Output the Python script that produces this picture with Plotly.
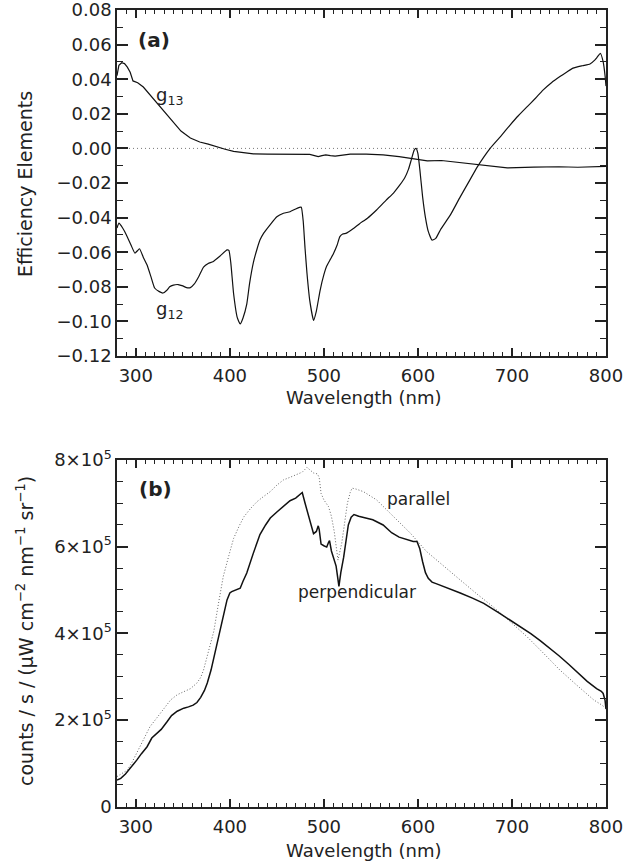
import plotly.graph_objects as go

# ---------------- data: panel (a) ----------------
g13_wl = [280, 282, 285, 288, 291, 294, 297, 302, 308, 315, 320, 326, 333, 340, 348, 358, 368, 377,
          386, 395, 404, 415, 425, 440, 458, 475, 485, 490, 494, 498, 502, 507, 512, 518, 528, 545,
          563, 580, 595, 610, 625, 645, 666, 695, 723, 750, 770, 794, 800]
g13_val = [0.042, 0.048, 0.0495, 0.049, 0.047, 0.044, 0.039, 0.038, 0.0355, 0.031, 0.028, 0.024,
           0.019, 0.0147, 0.010, 0.006, 0.0037, 0.0025, 0.0008, -0.0005, -0.0017, -0.0027, -0.0032,
           -0.0033, -0.0033, -0.0032, -0.0035, -0.0042, -0.0048, -0.0042, -0.0038, -0.0042, -0.0045,
           -0.004, -0.0033, -0.0033, -0.0038, -0.0048, -0.0061, -0.0072, -0.0070, -0.0082, -0.0096,
           -0.0113, -0.0108, -0.0106, -0.0109, -0.0108, -0.0104]

g12_wl = [280, 282, 286, 290, 295, 299, 302, 304, 308, 312, 316, 320, 325, 329, 333, 336, 340, 345,
          350, 354, 358, 362, 367, 372, 377, 382, 390, 397, 399, 401, 404, 408, 411, 414, 418, 421,
          425, 429, 432, 436, 443, 450, 457, 464, 470, 474, 476, 478, 480, 482, 485, 489, 492, 496,
          500, 503, 507, 510, 514, 517, 520, 524, 531, 538, 546, 556, 566, 574, 581, 586, 590, 593,
          596, 598, 600, 602, 605, 608, 611, 615, 619, 624, 635, 645, 655, 663, 670, 677, 688, 698,
          707, 716, 725, 733, 742, 751, 758, 765, 775, 783, 788, 791, 794, 797, 799, 800]
g12_val = [-0.046, -0.0432, -0.046, -0.050, -0.056, -0.0605, -0.059, -0.058, -0.063, -0.0674, -0.074,
           -0.0807, -0.0828, -0.0836, -0.082, -0.080, -0.079, -0.0787, -0.0795, -0.0805, -0.0805,
           -0.0785, -0.074, -0.0686, -0.0665, -0.0655, -0.062, -0.0587, -0.059, -0.066, -0.084, -0.098,
           -0.1015, -0.098, -0.090, -0.078, -0.066, -0.058, -0.053, -0.049, -0.044, -0.0395, -0.0375,
           -0.0366, -0.035, -0.0341, -0.034, -0.042, -0.058, -0.072, -0.088, -0.0994, -0.094, -0.082,
           -0.073, -0.068, -0.064, -0.061, -0.056, -0.051, -0.0495, -0.049, -0.0465, -0.0435, -0.0405,
           -0.0356, -0.030, -0.0258, -0.021, -0.017, -0.012, -0.0065, -0.001, 0.000, -0.003, -0.012,
           -0.028, -0.040, -0.048, -0.053, -0.052, -0.047, -0.038, -0.028, -0.0185, -0.0108, -0.005,
           0.0002, 0.007, 0.0135, 0.019, 0.024, 0.029, 0.0337, 0.038, 0.0415, 0.044, 0.0464, 0.0478,
           0.0488, 0.051, 0.053, 0.055, 0.050, 0.042, 0.036]

zero_wl = [280, 800]
zero_val = [0.0, 0.0]

# ---------------- data: panel (b) ----------------
perp_wl = [280, 284, 289, 295, 301, 306, 312, 317, 322, 327, 333, 338, 344, 351, 356, 361, 365, 369,
           373, 376, 380, 386, 391, 397, 400, 402, 406, 411, 414, 418, 425, 432, 438, 443, 450, 457,
           464, 470, 475, 477, 480, 484, 487, 489, 492, 494, 495, 497, 500, 503, 505, 506, 508, 509,
           511, 513, 516, 518, 521, 524, 526, 529, 532, 537, 542, 552, 563, 572, 580, 588, 595, 599,
           602, 605, 608, 611, 615, 620, 630, 645, 658, 670, 687, 700, 710, 720, 730, 740, 750, 760,
           770, 780, 790, 795, 797, 799, 800]
perp_val = [0.61, 0.65, 0.75, 0.90, 1.07, 1.22, 1.38, 1.58, 1.68, 1.78, 1.95, 2.10, 2.20, 2.27, 2.30,
            2.34, 2.40, 2.52, 2.68, 2.85, 3.15, 3.69, 4.20, 4.77, 4.93, 4.96, 5.00, 5.04, 5.20, 5.39,
            5.85, 6.28, 6.50, 6.66, 6.80, 6.92, 7.06, 7.12, 7.20, 7.25, 7.00, 6.69, 6.45, 6.30, 6.35,
            6.48, 6.40, 6.06, 6.02, 5.99, 6.10, 6.14, 5.90, 5.82, 5.70, 5.55, 5.08, 5.40, 5.75, 6.20,
            6.50, 6.68, 6.74, 6.70, 6.67, 6.62, 6.50, 6.32, 6.22, 6.16, 6.12, 6.12, 5.95, 5.65, 5.40,
            5.27, 5.18, 5.14, 5.06, 4.93, 4.81, 4.69, 4.46, 4.28, 4.14, 3.99, 3.83, 3.66, 3.48, 3.29,
            3.09, 2.89, 2.72, 2.66, 2.61, 2.45, 2.25]

par_wl = [280, 285, 291, 296, 301, 308, 315, 320, 326, 331, 337, 344, 351, 358, 365, 369, 372, 377,
          383, 388, 393, 399, 404, 410, 415, 422, 429, 436, 443, 450, 457, 464, 471, 477, 482, 486,
          489, 493, 495, 497, 500, 505, 508, 511, 515, 519, 522, 525, 528, 530, 534, 542, 556, 574,
          592, 609, 627, 645, 662, 680, 698, 716, 733, 751, 769, 787, 795, 800]
par_val = [0.69, 0.75, 0.84, 1.02, 1.23, 1.55, 1.84, 1.98, 2.15, 2.30, 2.46, 2.58, 2.65, 2.72, 2.85,
           2.98, 3.15, 3.55, 4.05, 4.70, 5.31, 5.80, 6.19, 6.48, 6.69, 6.88, 7.04, 7.16, 7.27, 7.42,
           7.54, 7.60, 7.66, 7.72, 7.83, 7.75, 7.70, 7.68, 7.60, 7.23, 7.08, 6.92, 6.70, 6.35, 5.69,
           6.08, 6.60, 7.00, 7.25, 7.35, 7.33, 7.27, 7.08, 6.69, 6.31, 5.89, 5.55, 5.23, 4.92, 4.61,
           4.27, 3.92, 3.55, 3.15, 2.80, 2.46, 2.35, 2.27]

scale_b = 1e5
perp_counts = [v * scale_b for v in perp_val]
par_counts = [v * scale_b for v in par_val]

# axis ranges and tick spacing
x_range = [280, 800]
x_major, x_minor = 100, 10
a_range = [-0.12, 0.08]
a_major, a_minor = 0.02, 0.01
b_range = [0, 8e5]
b_major, b_minor = 2e5, 5e4

# ---------------- layout geometry ----------------
W, H = 626, 861
FONT = "DejaVu Sans"
INK = "#222222"
xdom = [117 / W, 606 / W]
ydom_a = [1 - 356 / H, 1 - 10 / H]
ydom_b = [1 - 806.5 / H, 1 - 460 / H]

fig = go.Figure()
fig.add_trace(go.Scatter(x=zero_wl, y=zero_val, mode="lines", xaxis="x", yaxis="y",
                         line=dict(color="#777777", width=1, dash="1px,3px"), hoverinfo="skip"))
fig.add_trace(go.Scatter(x=g13_wl, y=g13_val, mode="lines", xaxis="x", yaxis="y",
                         line=dict(color="#111111", width=1.2)))
fig.add_trace(go.Scatter(x=g12_wl, y=g12_val, mode="lines", xaxis="x", yaxis="y",
                         line=dict(color="#111111", width=1.2, shape="spline", smoothing=0.4)))
fig.add_trace(go.Scatter(x=par_wl, y=par_counts, mode="lines", xaxis="x2", yaxis="y2",
                         line=dict(color="#666666", width=1, dash="1px,2px")))
fig.add_trace(go.Scatter(x=perp_wl, y=perp_counts, mode="lines", xaxis="x2", yaxis="y2",
                         line=dict(color="#111111", width=1.5)))

tfont = dict(family=FONT, size=18, color=INK)
base = dict(showline=True, linecolor=INK, linewidth=1.5, mirror="ticks", showgrid=False,
            zeroline=False, tickfont=tfont, ticklabeloverflow="allow",
            ticks="inside", tickcolor=INK, tickwidth=1.5, layer="above traces")

def xminor():
    return dict(tickmode="linear", tick0=x_range[0], dtick=x_minor, ticks="inside", ticklen=4,
                tickcolor=INK, tickwidth=1.2, showgrid=False)

def yminor(step):
    return dict(tickmode="linear", tick0=0, dtick=step, ticks="inside", ticklen=6,
                tickcolor=INK, tickwidth=1.2, showgrid=False)

fig.update_layout(
    width=W, height=H, margin=dict(l=0, r=0, t=0, b=0, autoexpand=False),
    paper_bgcolor="white", plot_bgcolor="white", showlegend=False,
    font=dict(family=FONT, color=INK),
    xaxis=dict(anchor="y", domain=xdom, range=x_range, tickmode="linear", tick0=300, dtick=x_major,
               ticklen=8, ticklabelstandoff=3, minor=xminor(), **base),
    yaxis=dict(anchor="x", domain=ydom_a, range=a_range, tickmode="linear", tick0=0, dtick=a_major,
               tickformat=".2f", ticklen=11, minor=yminor(a_minor), **base),
    xaxis2=dict(anchor="y2", domain=xdom, range=x_range, tickmode="linear", tick0=300, dtick=x_major,
                ticklen=8, ticklabelstandoff=3, minor=xminor(), **base),
    yaxis2=dict(anchor="x2", domain=ydom_b, range=b_range, tickmode="linear", tick0=0, dtick=b_major,
                exponentformat="power", showexponent="all", ticklen=11, minor=yminor(b_minor),
                **base),
)

def P(px, py):
    return px / W, 1 - py / H

anns = [
    ("Wavelength (nm)", 364, 397, 18, 0, "center", "middle"),
    ("Wavelength (nm)", 364, 850, 18, 0, "center", "middle"),
    ("Efficiency Elements", 25, 184, 19, -90, "center", "middle"),
    ("counts / s / (μW cm<sup>−2</sup> nm<sup>−1</sup> sr<sup>−1</sup>)", 25, 631, 19, -90, "center", "middle"),
    ("<b>(a)</b>", 136, 40, 20, 0, "left", "middle"),
    ("<b>(b)</b>", 137, 489, 20, 0, "left", "middle"),
    ("g<sub>13</sub>", 154, 96, 18, 0, "left", "middle"),
    ("g<sub>12</sub>", 154, 310, 18, 0, "left", "middle"),
    ("parallel", 418, 499, 17, 0, "center", "middle"),
    ("perpendicular", 357, 592, 17, 0, "center", "middle"),
]
for text, px, py, size, ang, xa, ya in anns:
    xp, yp = P(px, py)
    fig.add_annotation(text=text, x=xp, y=yp, xref="paper", yref="paper", showarrow=False,
                       textangle=ang, xanchor=xa, yanchor=ya,
                       font=dict(family=FONT, size=size, color=INK))

fig.write_html("out.html")
